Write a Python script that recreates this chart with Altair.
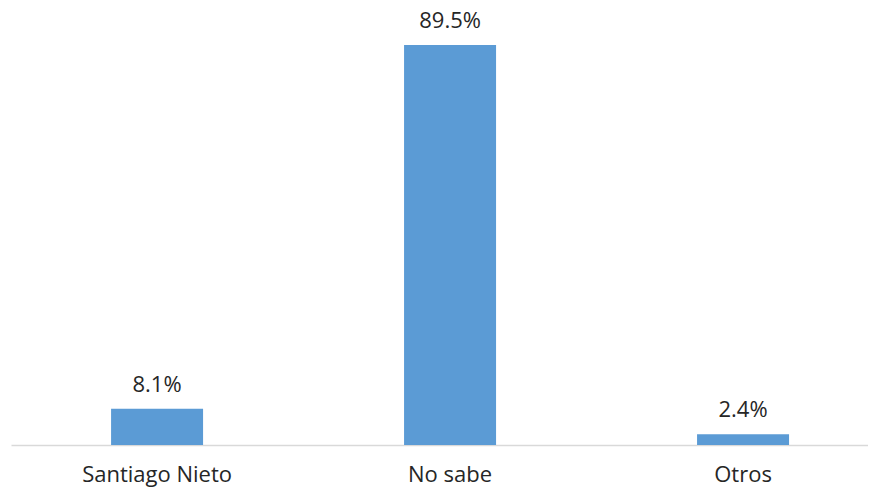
import altair as alt
import pandas as pd

categories = ["Santiago Nieto", "No sabe", "Otros"]
values = [8.1, 89.5, 2.4]
labels = ["8.1%", "89.5%", "2.4%"]

df = pd.DataFrame({"cat": categories, "val": values, "lab": labels})

FONT = "Open Sans"
FS = 22
x = alt.X("cat:N", sort=categories, title=None,
          scale=alt.Scale(paddingInner=0.686, paddingOuter=0.3055, align=0.559),
          axis=alt.Axis(labelAngle=0, ticks=False, domainColor="#d9d9d9", domainWidth=1.5,
                        labelFont=FONT, labelFontSize=FS, labelColor="#262626",
                        labelPadding=19, grid=False))
y = alt.Y("val:Q", scale=alt.Scale(domain=[0, 96.9], nice=False), axis=None)

bars = alt.Chart(df).mark_bar(color="#5B9BD5").encode(x=x, y=y)
text = alt.Chart(df).mark_text(font=FONT, fontSize=FS, color="#262626", dy=-17, baseline="alphabetic").encode(
    x=alt.X("cat:N", sort=categories), y="val:Q", text="lab:N")

chart = (bars + text).properties(
    width=857, height=433,
    autosize=alt.AutoSizeParams(type="none"),
    padding={"left": 3, "top": 4, "right": 0, "bottom": 45},
).configure(background="white").configure_view(stroke=None)

chart.save("out.html", embed_options={"renderer": "svg", "actions": False})
